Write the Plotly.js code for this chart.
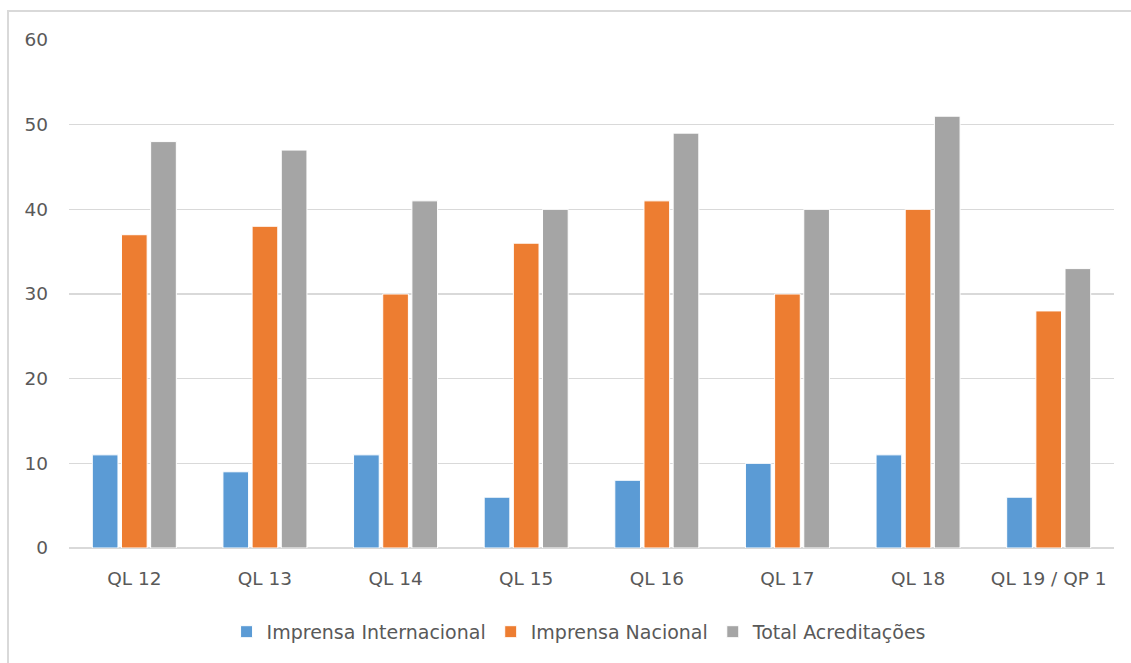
<!DOCTYPE html>
<html>
<head>
<meta charset="utf-8">
<script src="https://cdn.plot.ly/plotly-3.0.1.min.js"></script>
<style>
html,body{margin:0;padding:0;background:#fff;overflow:hidden;}
#chart{width:1131px;height:663px;}
#frame{position:absolute;left:7px;top:10px;width:1200px;height:700px;border-top:2px solid #d9d9d9;border-left:2px solid #d9d9d9;pointer-events:none;}
</style>
</head>
<body>
<div id="chart"></div>
<div id="frame"></div>
<script>
const categories = ["QL 12", "QL 13", "QL 14", "QL 15", "QL 16", "QL 17", "QL 18", "QL 19 / QP 1"];
const imprensaInternacional = [11, 9, 11, 6, 8, 10, 11, 6];
const imprensaNacional = [37, 38, 30, 36, 41, 30, 40, 28];
const totalAcreditacoes = [48, 47, 41, 40, 49, 40, 51, 33];
const yTicks = [0, 10, 20, 30, 40, 50, 60];

const font = "'DejaVu Sans', 'Open Sans', sans-serif";
const textColor = "#595959";

function bar(name, y, color) {
  return {
    type: "bar", name: name, x: categories, y: y,
    marker: {color: color, line: {color: "#ffffff", width: 1}},
    hoverinfo: "x+y+name"
  };
}

const data = [
  bar("Imprensa Internacional", imprensaInternacional, "#5B9BD5"),
  bar("Imprensa Nacional", imprensaNacional, "#ED7D31"),
  bar("Total Acreditações", totalAcreditacoes, "#A5A5A5")
];

const layout = {
  width: 1131, height: 663,
  margin: {l: 69, r: 17, t: 40, b: 115},
  paper_bgcolor: "#ffffff", plot_bgcolor: "#ffffff",
  barmode: "group", bargap: 0.33, bargroupgap: 0.12,
  font: {family: font, size: 19, color: textColor},
  xaxis: {
    type: "category", showgrid: false, zeroline: false,
    showline: false, ticks: "", ticklabelstandoff: 17,
    tickfont: {family: font, size: 18.5, color: textColor}
  },
  yaxis: {
    range: [0, 60], tickvals: yTicks, ticktext: yTicks.map(String),
    showgrid: true, gridcolor: "#d9d9d9", gridwidth: 1.5,
    zeroline: true, zerolinecolor: "#d9d9d9", zerolinewidth: 1.5,
    showline: false, ticks: "", ticklabelstandoff: 20,
    tickfont: {family: font, size: 18.5, color: textColor}
  },
  legend: {
    orientation: "h", xref: "container", yref: "container",
    x: 0.512, xanchor: "center", y: 0.047, yanchor: "middle",
    font: {family: font, size: 19, color: textColor},
    itemclick: false, traceorder: "normal"
  },
  showlegend: true
};

Plotly.newPlot("chart", data, layout, {displayModeBar: false, staticPlot: true});
</script>
</body>
</html>
